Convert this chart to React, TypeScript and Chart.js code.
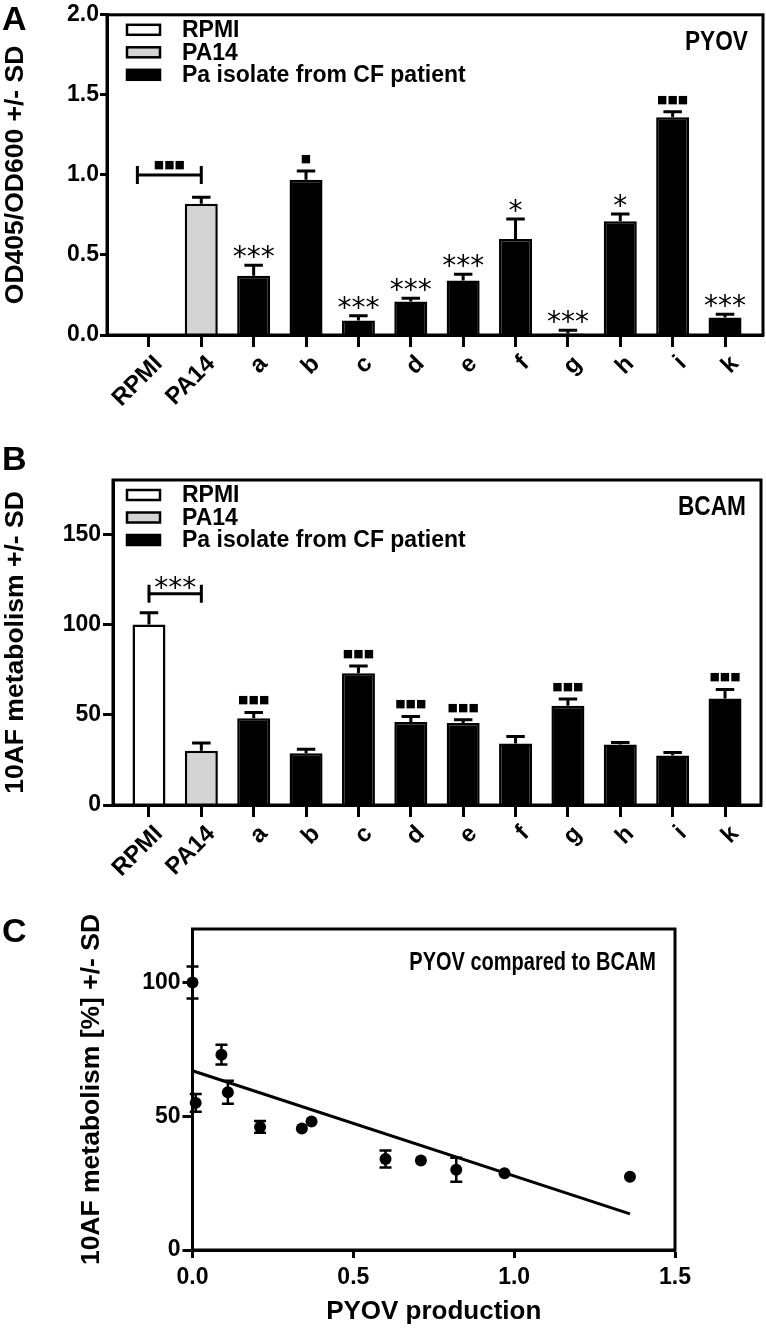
import React, { useEffect, useRef } from "react";
import { Chart, registerables } from "chart.js";

Chart.register(...registerables);

// ---------------- data ----------------
const categories = ["RPMI", "PA14", "a", "b", "c", "d", "e", "f", "g", "h", "i", "k"];
const categoryGroup = [0, 1, 2, 2, 2, 2, 2, 2, 2, 2, 2, 2];
const legendLabels = ["RPMI", "PA14", "Pa isolate from CF patient"];
const groupColors = ["#ffffff", "#d4d4d4", "#000000"];

const pyovMean = [0, 0.82, 0.37, 0.97, 0.09, 0.21, 0.34, 0.6, 0.01, 0.71, 1.36, 0.11];
const pyovSD = [0, 0.04, 0.065, 0.055, 0.03, 0.02, 0.04, 0.125, 0.02, 0.045, 0.035, 0.02];
const pyovMarks = ["", "", "***", "■", "***", "***", "***", "*", "***", "*", "■■■", "***"];
const pyovTicks = [0, 0.5, 1.0, 1.5, 2.0];

const bcamMean = [100, 30, 48, 28.7, 73, 46, 45.4, 34, 55, 33.5, 27.4, 59];
const bcamSD = [6.5, 4.3, 3.3, 2.2, 4, 3, 1.8, 3.9, 3.7, 1.1, 1.7, 5];
const bcamMarks = ["", "", "■■■", "", "■■■", "■■■", "■■■", "", "■■■", "", "", "■■■"];
const bcamTicks = [0, 50, 100, 150];

const scatterErr = [6, 4.5, 0, 0, 3.7, 2.2, 0, 3.2, 3.3, 0, 0, 4.3];
const fitX = [0, 1.36];
const fitY = [67, 13.5];
const scatterXTicks = [0, 0.5, 1.0, 1.5];
const scatterYTicks = [0, 50, 100];

// ---------------- styling ----------------
const FONT = '"Liberation Sans", Arial, sans-serif';
const FONT_SYM = '"DejaVu Sans", sans-serif';

const panelA = {
  letter: "A", letterY: 30,
  means: pyovMean, sds: pyovSD, marks: pyovMarks,
  yMax: 2, yTicks: pyovTicks, decimals: 1,
  yTitle: "OD405/OD600 +/- SD", tag: "PYOV",
  bracket: { from: -0.22, to: 1, value: 1.0, label: "■■■" },
  xMin: -0.8, xMax: 11.725,
  height: 420, top: 11, right: 763, left: 107, bottom: 335,
  yTickLen: 7, yTickPad: 1,
};

const panelB = {
  letter: "B", letterY: 50,
  means: bcamMean, sds: bcamSD, marks: bcamMarks,
  yMax: 180, yTicks: bcamTicks, decimals: 0,
  yTitle: "10AF metabolism +/- SD", tag: "BCAM",
  bracket: { from: 0, to: 1, value: 117, label: "***" },
  xMin: -0.687, xMax: 11.687,
  height: 480, top: 60, right: 761, left: 113, bottom: 385,
  yTickLen: 10, yTickPad: 2,
};

function drawMark(ctx: any, text: string, x: number, anchorY: number) {
  ctx.save();
  ctx.fillStyle = "#000";
  ctx.textAlign = "center";
  if (text.includes("*")) {
    ctx.font = `28px ${FONT_SYM}`;
    ctx.textBaseline = "alphabetic";
    ctx.fillText(text, x, anchorY + 1);
  } else {
    ctx.font = `11px ${FONT_SYM}`;
    ctx.textBaseline = "middle";
    ctx.fillText(text, x, anchorY - 12);
  }
  ctx.restore();
}

function drawNarrow(ctx: any, text: string, xRight: number, baseline: number, size: number, sx: number) {
  ctx.save();
  ctx.translate(xRight, baseline);
  ctx.scale(sx, 1);
  ctx.fillStyle = "#000";
  ctx.font = `bold ${size}px ${FONT}`;
  ctx.textAlign = "right";
  ctx.textBaseline = "alphabetic";
  ctx.fillText(text, 0, 0);
  ctx.restore();
}

function makeBarChart(canvas: HTMLCanvasElement, p: any) {
  const decor = {
    id: "decor" + p.letter,
    afterDraw(chart: any) {
      const { ctx, chartArea: ca, scales } = chart;
      const x = scales.x;
      const y = scales.y;
      const meta = chart.getDatasetMeta(0);
      ctx.save();
      ctx.strokeStyle = "#000";
      ctx.lineWidth = 3;
      ctx.strokeRect(ca.left, ca.top, ca.right - ca.left, ca.bottom - ca.top);
      // error bars + significance
      p.means.forEach((m: number, i: number) => {
        const bar: any = meta.data[i];
        const sd = p.sds[i];
        const xc = x.getPixelForValue(i);
        const y0 = y.getPixelForValue(m);
        const y1 = y.getPixelForValue(m + sd);
        const half = bar.width * 0.28;
        if (sd > 0) {
          ctx.lineWidth = 3;
          ctx.beginPath();
          ctx.moveTo(xc, y0);
          ctx.lineTo(xc, y1);
          ctx.moveTo(xc - half, y1);
          ctx.lineTo(xc + half, y1);
          ctx.stroke();
        }
        if (p.marks[i]) drawMark(ctx, p.marks[i], xc, y1);
      });
      // bracket
      const b = p.bracket;
      const bx0 = x.getPixelForValue(b.from);
      const bx1 = x.getPixelForValue(b.to);
      const by = y.getPixelForValue(b.value);
      ctx.lineWidth = 3;
      ctx.beginPath();
      ctx.moveTo(bx0, by);
      ctx.lineTo(bx1, by);
      ctx.moveTo(bx0, by - 9);
      ctx.lineTo(bx0, by + 9);
      ctx.moveTo(bx1, by - 9);
      ctx.lineTo(bx1, by + 9);
      ctx.stroke();
      drawMark(ctx, b.label, (bx0 + bx1) / 2, by + 2);
      // legend
      legendLabels.forEach((lab, k) => {
        const cy = ca.top + 15 + k * 22.5;
        ctx.fillStyle = groupColors[k];
        ctx.fillRect(127, cy - 5, 33, 10);
        ctx.lineWidth = 2.5;
        ctx.strokeStyle = "#000";
        ctx.strokeRect(127, cy - 5, 33, 10);
        ctx.fillStyle = "#000";
        ctx.font = `bold 23px ${FONT}`;
        ctx.textAlign = "left";
        ctx.textBaseline = "middle";
        ctx.fillText(lab, 182, cy + 1);
      });
      // tag
      drawNarrow(ctx, p.tag, ca.right - 15, ca.top + 35, 27, 0.84);
      // panel letter
      ctx.fillStyle = "#000";
      ctx.font = `bold 34px ${FONT}`;
      ctx.textAlign = "left";
      ctx.textBaseline = "alphabetic";
      ctx.fillText(p.letter, 2, p.letterY);
      ctx.restore();
    },
  };

  return new Chart(canvas, {
    type: "bar",
    data: {
      datasets: [
        {
          data: p.means.map((m: number, i: number) => ({ x: i, y: m })),
          backgroundColor: categoryGroup.map((g) => groupColors[g]),
          borderColor: "#000",
          borderWidth: 2.5,
          barPercentage: 0.63,
          categoryPercentage: 1,
        },
      ],
    },
    options: {
      responsive: false,
      devicePixelRatio: 1,
      animation: false,
      layout: { padding: { left: 0, top: p.top, right: 766 - p.right, bottom: 0 } },
      plugins: { legend: { display: false }, tooltip: { enabled: false } },
      scales: {
        x: {
          type: "linear",
          offset: false,
          min: p.xMin,
          max: p.xMax,
          afterBuildTicks: (s: any) => {
            s.ticks = categories.map((_, i) => ({ value: i }));
          },
          afterFit: (s: any) => {
            s.height = p.height - p.bottom;
          },
          ticks: {
            autoSkip: false,
            minRotation: 45,
            maxRotation: 45,
            padding: 3,
            labelOffset: 10,
            font: { family: FONT, size: 24, weight: "bold" },
            callback: (v: any) => categories[v] ?? "",
          },
          grid: { offset: false, drawOnChartArea: false, drawTicks: true, tickLength: 12, tickWidth: 3, tickColor: "#000", color: "#000" },
          border: { display: true, color: "#000", width: 3 },
        },
        y: {
          type: "linear",
          min: 0,
          max: p.yMax,
          afterBuildTicks: (s: any) => {
            s.ticks = p.yTicks.map((v: number) => ({ value: v }));
          },
          afterFit: (s: any) => {
            s.width = p.left;
          },
          ticks: {
            padding: p.yTickPad,
            font: { family: FONT, size: 23, weight: "bold" },
            callback: (v: any) => Number(v).toFixed(p.decimals),
          },
          grid: { drawOnChartArea: false, drawTicks: true, tickLength: p.yTickLen, tickWidth: 3, tickColor: "#000", color: "#000" },
          border: { display: true, color: "#000", width: 3 },
          title: {
            display: true,
            text: p.yTitle,
            padding: 0,
            font: { family: FONT, size: 26.5, weight: "bold" },
          },
        },
      },
    },
    plugins: [decor],
  } as any);
}

function makeScatter(canvas: HTMLCanvasElement) {
  const H = 460;
  const decor = {
    id: "decorC",
    afterDatasetsDraw(chart: any) {
      const { ctx, chartArea: ca, scales } = chart;
      const x = scales.x;
      const y = scales.y;
      ctx.save();
      ctx.strokeStyle = "#000";
      ctx.lineWidth = 2.5;
      pyovMean.forEach((px: number, i: number) => {
        const e = scatterErr[i];
        if (!e) return;
        const xc = x.getPixelForValue(px);
        const yt = y.getPixelForValue(bcamMean[i] + e);
        const yb = y.getPixelForValue(bcamMean[i] - e);
        ctx.beginPath();
        ctx.moveTo(xc, yt);
        ctx.lineTo(xc, yb);
        ctx.moveTo(xc - 6, yt);
        ctx.lineTo(xc + 6, yt);
        ctx.moveTo(xc - 6, yb);
        ctx.lineTo(xc + 6, yb);
        ctx.stroke();
      });
      ctx.lineWidth = 3;
      ctx.strokeRect(ca.left, ca.top, ca.right - ca.left, ca.bottom - ca.top);
      drawNarrow(ctx, "PYOV compared to BCAM", ca.right - 19, ca.top + 41, 25, 0.8);
      ctx.fillStyle = "#000";
      ctx.font = `bold 34px ${FONT}`;
      ctx.textAlign = "left";
      ctx.textBaseline = "alphabetic";
      ctx.fillText("C", 2, 72);
      ctx.restore();
    },
  };

  return new Chart(canvas, {
    type: "scatter",
    data: {
      datasets: [
        {
          type: "scatter",
          data: pyovMean.map((px, i) => ({ x: px, y: bcamMean[i] })),
          pointRadius: 6,
          pointBackgroundColor: "#000",
          pointBorderWidth: 0,
          clip: false,
        },
        {
          type: "line",
          data: fitX.map((fx, i) => ({ x: fx, y: fitY[i] })),
          borderColor: "#000",
          borderWidth: 3,
          pointRadius: 0,
          showLine: true,
          fill: false,
        },
      ],
    },
    options: {
      responsive: false,
      devicePixelRatio: 1,
      animation: false,
      layout: { padding: { left: 76, top: 59, right: 91, bottom: 0 } },
      plugins: { legend: { display: false }, tooltip: { enabled: false } },
      scales: {
        x: {
          type: "linear",
          min: 0,
          max: 1.5,
          afterBuildTicks: (s: any) => {
            s.ticks = scatterXTicks.map((v) => ({ value: v }));
          },
          afterFit: (s: any) => {
            s.height = H - 380;
          },
          ticks: {
            padding: 6,
            font: { family: FONT, size: 23, weight: "bold" },
            callback: (v: any) => Number(v).toFixed(1),
          },
          grid: { drawOnChartArea: false, drawTicks: true, tickLength: 8, tickWidth: 3, tickColor: "#000", color: "#000" },
          border: { display: true, color: "#000", width: 3 },
          title: {
            display: true,
            text: "PYOV production",
            padding: { top: 0, bottom: 3 },
            font: { family: FONT, size: 26, weight: "bold" },
          },
        },
        y: {
          type: "linear",
          min: 0,
          max: 120,
          afterBuildTicks: (s: any) => {
            s.ticks = scatterYTicks.map((v) => ({ value: v }));
          },
          afterFit: (s: any) => {
            s.width = 192.5 - 76;
          },
          ticks: {
            padding: 2,
            font: { family: FONT, size: 23, weight: "bold" },
          },
          grid: { drawOnChartArea: false, drawTicks: true, tickLength: 10, tickWidth: 3, tickColor: "#000", color: "#000" },
          border: { display: true, color: "#000", width: 3 },
          title: {
            display: true,
            text: "10AF metabolism [%] +/- SD",
            padding: 0,
            font: { family: FONT, size: 26.5, weight: "bold" },
          },
        },
      },
    },
    plugins: [decor],
  } as any);
}

export default function App() {
  const aRef = useRef<HTMLCanvasElement>(null);
  const bRef = useRef<HTMLCanvasElement>(null);
  const cRef = useRef<HTMLCanvasElement>(null);

  useEffect(() => {
    document.body.style.margin = "0";
    Chart.defaults.color = "#000";
    Chart.defaults.font.family = FONT;
    const charts = [
      makeBarChart(aRef.current as HTMLCanvasElement, panelA),
      makeBarChart(bRef.current as HTMLCanvasElement, panelB),
      makeScatter(cRef.current as HTMLCanvasElement),
    ];
    return () => charts.forEach((c) => c.destroy());
  }, []);

  return (
    <div style={{ position: "relative", width: 766, height: 1330, background: "#fff" }}>
      <canvas ref={aRef} width={766} height={420} style={{ position: "absolute", left: 0, top: 0 }} />
      <canvas ref={bRef} width={766} height={480} style={{ position: "absolute", left: 0, top: 420 }} />
      <canvas ref={cRef} width={766} height={460} style={{ position: "absolute", left: 0, top: 870 }} />
    </div>
  );
}
